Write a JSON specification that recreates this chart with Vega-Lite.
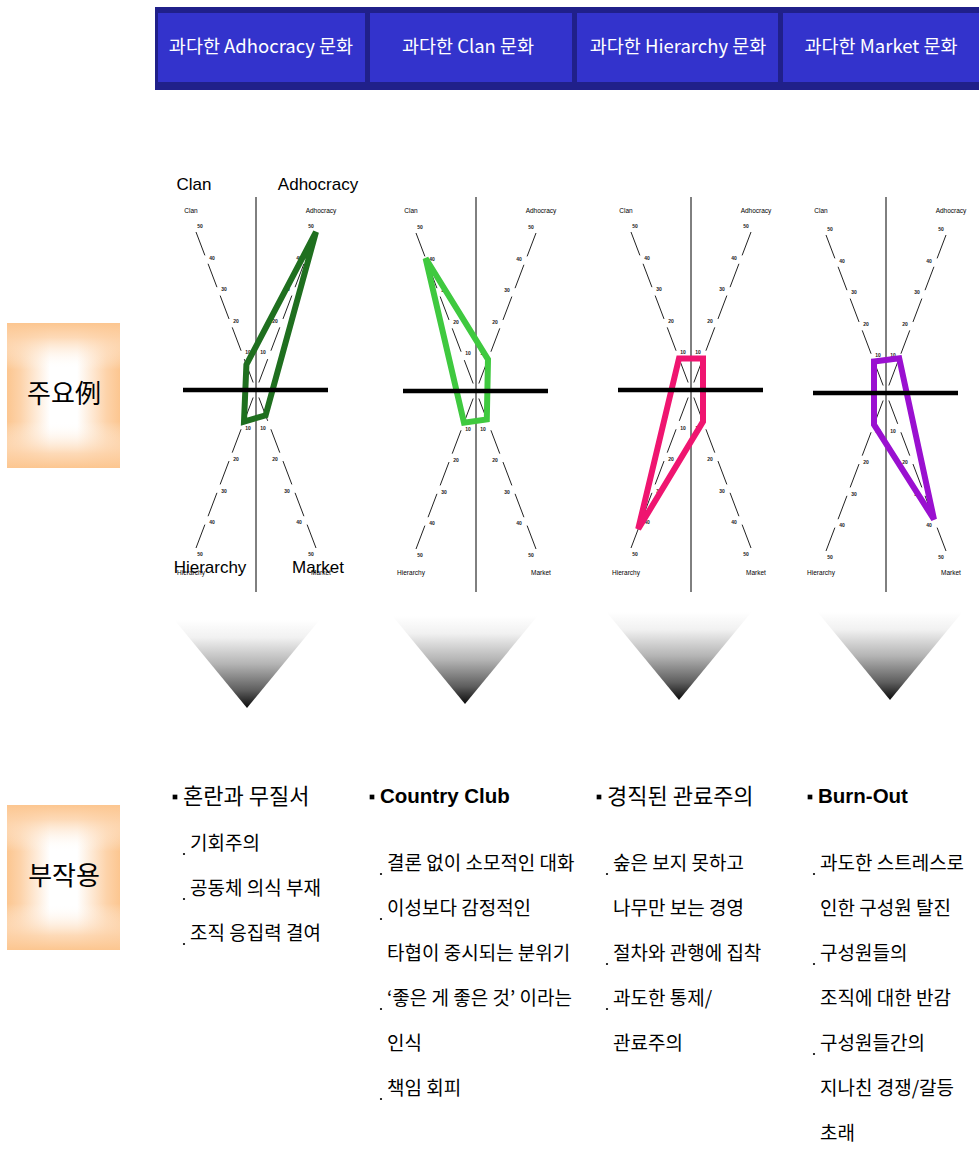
{
  "$schema": "https://vega.github.io/schema/vega-lite/v6.json",
  "width": 979,
  "height": 1149,
  "padding": 0,
  "autosize": {"type": "fit", "contains": "padding"},
  "background": "#ffffff",
  "config": {
    "view": {"stroke": null},
    "axis": {"disable": true},
    "legend": {"disable": true}
  },
  "datasets": {
    "headers": [
      {"col": 1, "title": "과다한 Adhocracy 문화"},
      {"col": 2, "title": "과다한 Clan 문화"},
      {"col": 3, "title": "과다한 Hierarchy 문화"},
      {"col": 4, "title": "과다한 Market 문화"}
    ],
    "sections": [
      {"row": 1, "label": "주요例"},
      {"row": 2, "label": "부작용"}
    ],
    "radar": [
      {"col": 1, "culture": "Adhocracy", "Clan": 8, "Adhocracy": 50, "Market": 8, "Hierarchy": 10},
      {"col": 2, "culture": "Clan", "Clan": 42, "Adhocracy": 10, "Market": 9, "Hierarchy": 10},
      {"col": 3, "culture": "Hierarchy", "Clan": 10, "Adhocracy": 10, "Market": 10, "Hierarchy": 44},
      {"col": 4, "culture": "Market", "Clan": 10, "Adhocracy": 11, "Market": 40, "Hierarchy": 10}
    ],
    "notes": [
      {"col": 1, "line": 0, "kind": "heading", "text": "혼란과 무질서"},
      {"col": 1, "line": 1, "kind": "point", "text": "기회주의"},
      {"col": 1, "line": 2, "kind": "point", "text": "공동체 의식 부재"},
      {"col": 1, "line": 3, "kind": "point", "text": "조직 응집력 결여"},
      {"col": 2, "line": 0, "kind": "heading", "text": "Country Club"},
      {"col": 2, "line": 1, "kind": "point", "text": "결론 없이 소모적인 대화"},
      {"col": 2, "line": 2, "kind": "point", "text": "이성보다 감정적인"},
      {"col": 2, "line": 3, "kind": "continued", "text": "타협이 중시되는 분위기"},
      {"col": 2, "line": 4, "kind": "point", "text": "‘좋은 게 좋은 것’ 이라는"},
      {"col": 2, "line": 5, "kind": "continued", "text": "인식"},
      {"col": 2, "line": 6, "kind": "point", "text": "책임 회피"},
      {"col": 3, "line": 0, "kind": "heading", "text": "경직된 관료주의"},
      {"col": 3, "line": 1, "kind": "point", "text": "숲은 보지 못하고"},
      {"col": 3, "line": 2, "kind": "continued", "text": "나무만 보는 경영"},
      {"col": 3, "line": 3, "kind": "point", "text": "절차와 관행에 집착"},
      {"col": 3, "line": 4, "kind": "point", "text": "과도한 통제/"},
      {"col": 3, "line": 5, "kind": "continued", "text": "관료주의"},
      {"col": 4, "line": 0, "kind": "heading", "text": "Burn-Out"},
      {"col": 4, "line": 1, "kind": "point", "text": "과도한 스트레스로"},
      {"col": 4, "line": 2, "kind": "continued", "text": "인한 구성원 탈진"},
      {"col": 4, "line": 3, "kind": "point", "text": "구성원들의"},
      {"col": 4, "line": 4, "kind": "continued", "text": "조직에 대한 반감"},
      {"col": 4, "line": 5, "kind": "point", "text": "구성원들간의"},
      {"col": 4, "line": 6, "kind": "continued", "text": "지나친 경쟁/갈등"},
      {"col": 4, "line": 7, "kind": "continued", "text": "초래"}
    ]
  },
  "encoding": {
    "x": {"field": "px", "type": "quantitative", "scale": {"domain": [0, 979], "nice": false, "zero": false}, "axis": null},
    "y": {"field": "py", "type": "quantitative", "scale": {"domain": [0, 1149], "nice": false, "zero": false, "reverse": true}, "axis": null}
  },
  "layer": [
    {
      "data": {"name": "sections"},
      "transform": [
        {"calculate": "7", "as": "px"},
        {"calculate": "120", "as": "px2"},
        {"calculate": "datum.row == 1 ? 323 : 805", "as": "py"},
        {"calculate": "datum.py + 145", "as": "py2"}
      ],
      "layer": [
        {
          "mark": {
            "type": "rect",
            "fill": {
              "gradient": "linear", "x1": 0, "y1": 0, "x2": 1, "y2": 0,
              "stops": [
                {"offset": 0, "color": "#fcc690"},
                {"offset": 0.12, "color": "#fdd3aa"},
                {"offset": 0.38, "color": "#ffffff"},
                {"offset": 0.62, "color": "#ffffff"},
                {"offset": 0.88, "color": "#fdd3aa"},
                {"offset": 1, "color": "#fcc690"}
              ]
            }
          },
          "encoding": {"x2": {"field": "px2"}, "y2": {"field": "py2"}}
        },
        {
          "mark": {
            "type": "rect",
            "fill": {
              "gradient": "linear", "x1": 0, "y1": 0, "x2": 0, "y2": 1,
              "stops": [
                {"offset": 0, "color": "rgba(252,198,144,1)"},
                {"offset": 0.1, "color": "rgba(253,211,170,0.85)"},
                {"offset": 0.32, "color": "rgba(255,255,255,0)"},
                {"offset": 0.68, "color": "rgba(255,255,255,0)"},
                {"offset": 0.9, "color": "rgba(253,211,170,0.85)"},
                {"offset": 1, "color": "rgba(252,198,144,1)"}
              ]
            }
          },
          "encoding": {"x2": {"field": "px2"}, "y2": {"field": "py2"}}
        },
        {
          "transform": [
            {"calculate": "64", "as": "px"},
            {"calculate": "datum.py + 72", "as": "py"}
          ],
          "mark": {"type": "text", "font": "Noto Sans CJK KR", "fontSize": 26, "color": "#000000", "align": "center", "baseline": "middle"},
          "encoding": {"text": {"field": "label"}}
        }
      ]
    },
    {
      "data": {"name": "headers"},
      "transform": [
        {"calculate": "[155, 367, 574, 780, 979][datum.col - 1]", "as": "left"},
        {"calculate": "[155, 367, 574, 780, 979][datum.col]", "as": "right"}
      ],
      "layer": [
        {
          "transform": [
            {"calculate": "datum.left", "as": "px"},
            {"calculate": "datum.right", "as": "px2"},
            {"calculate": "7", "as": "py"},
            {"calculate": "90", "as": "py2"}
          ],
          "mark": {"type": "rect", "fill": "#20208a"},
          "encoding": {"x2": {"field": "px2"}, "y2": {"field": "py2"}}
        },
        {
          "transform": [
            {"calculate": "datum.left + 3", "as": "px"},
            {"calculate": "datum.col == 4 ? datum.right : datum.right - 2", "as": "px2"},
            {"calculate": "13", "as": "py"},
            {"calculate": "82", "as": "py2"}
          ],
          "mark": {"type": "rect", "fill": "#3333cc"},
          "encoding": {"x2": {"field": "px2"}, "y2": {"field": "py2"}}
        },
        {
          "transform": [
            {"calculate": "[261, 468, 678, 881][datum.col - 1]", "as": "px"},
            {"calculate": "47", "as": "py"}
          ],
          "mark": {"type": "text", "font": "Noto Sans CJK KR", "fontSize": 18.5, "color": "#ffffff", "align": "center", "baseline": "middle"},
          "encoding": {"text": {"field": "title"}}
        }
      ]
    },
    {
      "data": {"name": "radar"},
      "transform": [
        {"calculate": "[256, 476, 691, 886][datum.col - 1]", "as": "cx"},
        {"calculate": "[390, 391, 390, 393][datum.col - 1]", "as": "cy"}
      ],
      "layer": [
        {
          "transform": [
            {"calculate": "datum.cx", "as": "px"},
            {"calculate": "197", "as": "py"},
            {"calculate": "592", "as": "py2"}
          ],
          "mark": {"type": "rule", "color": "#000000", "strokeWidth": 1},
          "encoding": {"y2": {"field": "py2"}}
        },
        {
          "transform": [
            {"fold": ["Clan", "Adhocracy", "Market", "Hierarchy"], "as": ["axis", "score"]},
            {"calculate": "datum.axis == 'Adhocracy' || datum.axis == 'Market' ? 1 : -1", "as": "sx"},
            {"calculate": "datum.axis == 'Clan' || datum.axis == 'Adhocracy' ? -1 : 1", "as": "sy"}
          ],
          "layer": [
            {
              "transform": [
                {"calculate": "datum.cx + datum.sx * 60", "as": "px"},
                {"calculate": "datum.cy + datum.sy * 158", "as": "py"},
                {"calculate": "datum.cx", "as": "px2"},
                {"calculate": "datum.cy", "as": "py2"}
              ],
              "mark": {"type": "rule", "color": "#222222", "strokeWidth": 1, "strokeDash": [25, 9]},
              "encoding": {"x2": {"field": "px2"}, "y2": {"field": "py2"}}
            },
            {
              "transform": [
                {"calculate": "[10, 20, 30, 40, 50]", "as": "tick"},
                {"flatten": ["tick"]},
                {"calculate": "datum.cx + datum.sx * 1.2 * datum.tick + (datum.sx < 0 ? 4 : -5)", "as": "px"},
                {"calculate": "datum.cy + datum.sy * 3.16 * datum.tick + (datum.sy < 0 ? -6 : 6)", "as": "py"}
              ],
              "mark": {"type": "text", "font": "Liberation Sans", "fontSize": 5, "fontWeight": "bold", "color": "#222222", "align": "center", "baseline": "middle"},
              "encoding": {"text": {"field": "tick", "type": "quantitative", "format": "d"}}
            },
            {
              "transform": [
                {"calculate": "datum.cx + datum.sx * 65", "as": "px"},
                {"calculate": "datum.sy < 0 ? 211 : 573", "as": "py"}
              ],
              "mark": {"type": "text", "font": "Liberation Sans", "fontSize": 6.5, "color": "#000000", "align": "center", "baseline": "middle"},
              "encoding": {"text": {"field": "axis"}}
            },
            {
              "transform": [
                {"filter": "datum.col == 1"},
                {"calculate": "datum.sy < 0 ? datum.cx + datum.sx * 62 : (datum.sx < 0 ? datum.cx - 46 : datum.cx + 62)", "as": "px"},
                {"calculate": "datum.sy < 0 ? 185 : 568", "as": "py"}
              ],
              "mark": {"type": "text", "font": "Liberation Sans", "fontSize": 17, "color": "#000000", "align": "center", "baseline": "middle"},
              "encoding": {"text": {"field": "axis"}}
            },
            {
              "transform": [
                {"calculate": "indexof(['Clan', 'Adhocracy', 'Market', 'Hierarchy'], datum.axis)", "as": "ord"},
                {"calculate": "datum.cx + datum.sx * 1.2 * datum.score", "as": "px"},
                {"calculate": "datum.cy + datum.sy * 3.16 * datum.score", "as": "py"}
              ],
              "mark": {"type": "line", "interpolate": "linear-closed", "strokeWidth": 6, "strokeJoin": "miter"},
              "encoding": {
                "color": {"field": "culture", "type": "nominal", "scale": {"domain": ["Adhocracy", "Clan", "Hierarchy", "Market"], "range": ["#1f6f1f", "#3fc93f", "#ef1570", "#9a10d0"]}, "legend": null},
                "order": {"field": "ord", "type": "quantitative"}
              }
            }
          ]
        },
        {
          "transform": [
            {"calculate": "datum.cx - 73", "as": "px"},
            {"calculate": "datum.cx + 72", "as": "px2"},
            {"calculate": "datum.cy", "as": "py"}
          ],
          "mark": {"type": "rule", "color": "#000000", "strokeWidth": 4.5},
          "encoding": {"x2": {"field": "px2"}}
        }
      ]
    },
    {
      "data": {"name": "headers"},
      "transform": [
        {"calculate": "[247, 465, 679, 890][datum.col - 1]", "as": "px"},
        {"calculate": "[664, 660, 656, 656][datum.col - 1]", "as": "py"}
      ],
      "mark": {
        "type": "point",
        "shape": "M-1,-0.607L1,-0.607L0,0.607Z",
        "size": 21025,
        "filled": true,
        "opacity": 1,
        "strokeWidth": 0,
        "fill": {
          "gradient": "linear", "x1": 0, "y1": 0, "x2": 0, "y2": 1,
          "stops": [
            {"offset": 0, "color": "#ffffff"},
            {"offset": 0.2, "color": "#f1f1f1"},
            {"offset": 0.5, "color": "#b4b4b4"},
            {"offset": 0.8, "color": "#5e5e5e"},
            {"offset": 1, "color": "#0a0a0a"}
          ]
        }
      }
    },
    {
      "data": {"name": "notes"},
      "transform": [
        {"calculate": "datum.line == 0 ? 797 : (datum.col == 1 ? 844 : 864) + (datum.line - 1) * 45", "as": "py"},
        {"calculate": "[183, 380, 607, 818][datum.col - 1]", "as": "hx"},
        {"calculate": "[190, 387, 613, 820][datum.col - 1]", "as": "bx"}
      ],
      "layer": [
        {
          "transform": [
            {"filter": "datum.kind == 'heading'"},
            {"calculate": "datum.hx - 8", "as": "px"}
          ],
          "mark": {"type": "point", "shape": "square", "size": 22, "filled": true, "color": "#000000", "opacity": 1}
        },
        {
          "transform": [
            {"filter": "datum.kind == 'point'"},
            {"calculate": "datum.bx - 6", "as": "px"},
            {"calculate": "datum.py + 10", "as": "py"}
          ],
          "mark": {"type": "point", "shape": "circle", "size": 5, "filled": true, "color": "#000000", "opacity": 1}
        },
        {
          "transform": [
            {"filter": "datum.kind == 'heading' && (datum.col == 1 || datum.col == 3)"},
            {"calculate": "datum.hx", "as": "px"}
          ],
          "mark": {"type": "text", "font": "Noto Sans CJK KR", "fontSize": 22, "color": "#000000", "align": "left", "baseline": "middle"},
          "encoding": {"text": {"field": "text"}}
        },
        {
          "transform": [
            {"filter": "datum.kind == 'heading' && (datum.col == 2 || datum.col == 4)"},
            {"calculate": "datum.hx", "as": "px"}
          ],
          "mark": {"type": "text", "font": "Liberation Sans", "fontSize": 20.5, "fontWeight": "bold", "color": "#000000", "align": "left", "baseline": "middle"},
          "encoding": {"text": {"field": "text"}}
        },
        {
          "transform": [
            {"filter": "datum.kind != 'heading'"},
            {"calculate": "datum.bx", "as": "px"}
          ],
          "mark": {"type": "text", "font": "Noto Sans CJK KR", "fontSize": 19, "color": "#000000", "align": "left", "baseline": "middle"},
          "encoding": {"text": {"field": "text"}}
        }
      ]
    }
  ]
}
